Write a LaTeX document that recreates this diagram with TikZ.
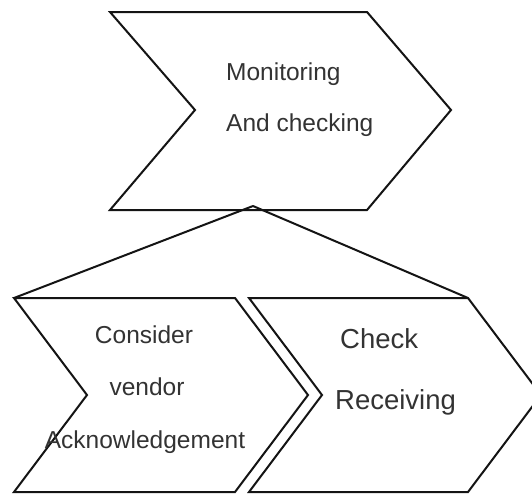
\documentclass[tikz,border=0pt]{standalone}
\usepackage{fontspec}
\setmainfont{Liberation Sans}
\begin{document}
\begin{tikzpicture}[x=1pt,y=-1pt,
  chev/.style={draw=black!92,line width=2pt,line join=miter},
  link/.style={draw=black!92,line width=2pt},
  lbl/.style={inner sep=0pt,text=black!80,font=\fontsize{24.5}{24.5}\selectfont},
  biglbl/.style={inner sep=0pt,text=black!80,font=\fontsize{27.5}{27.5}\selectfont}]
\useasboundingbox (0,0) rectangle (532,493);
\clip (0,0) rectangle (532,493);
\fill[white] (0,0) rectangle (532,493);

% corner points of the three chevrons
\coordinate (mTL) at (110,12);   \coordinate (mTR) at (367,12);
\coordinate (mTip) at (451,110); \coordinate (mBR) at (367,210);
\coordinate (mBL) at (110,210);  \coordinate (mNotch) at (195,110);
\coordinate (apex) at (253,206);

\coordinate (aTL) at (14,298);   \coordinate (aTR) at (235,298);
\coordinate (aTip) at (308,395); \coordinate (aBR) at (235,492);
\coordinate (aBL) at (14,492);   \coordinate (aNotch) at (87,395);

\coordinate (bTL) at (249,298);  \coordinate (bTR) at (468,298);
\coordinate (bTip) at (541,395); \coordinate (bBR) at (468,492);
\coordinate (bBL) at (249,492);  \coordinate (bNotch) at (322,395);

% chevron outlines
\draw[chev] (mTL) -- (mTR) -- (mTip) -- (mBR) -- (mBL) -- (mNotch) -- cycle;
\draw[chev] (aTL) -- (aTR) -- (aTip) -- (aBR) -- (aBL) -- (aNotch) -- cycle;
\draw[chev] (bTL) -- (bTR) -- (bTip) -- (bBR) -- (bBL) -- (bNotch) -- cycle;

% breakdown lines from the parent step to its sub-steps
\draw[link] (apex) -- (aTL);
\draw[link] (apex) -- (bTR);

% labels
\node[lbl,anchor=base west] (m1) at (226,80) {Monitoring};
\node[lbl,anchor=base west] (m2) at (226,131) {And checking};

\node[lbl,anchor=base] (a1) at (144,343) {Consider};
\node[lbl,anchor=base] (a2) at (147,395) {vendor};
\node[lbl,anchor=base] (a3) at (145,448) {Acknowledgement};

\node[biglbl,anchor=base west] (b1) at (340,348) {Check};
\node[biglbl,anchor=base west] (b2) at (335,409) {Receiving};
\end{tikzpicture}
\end{document}
